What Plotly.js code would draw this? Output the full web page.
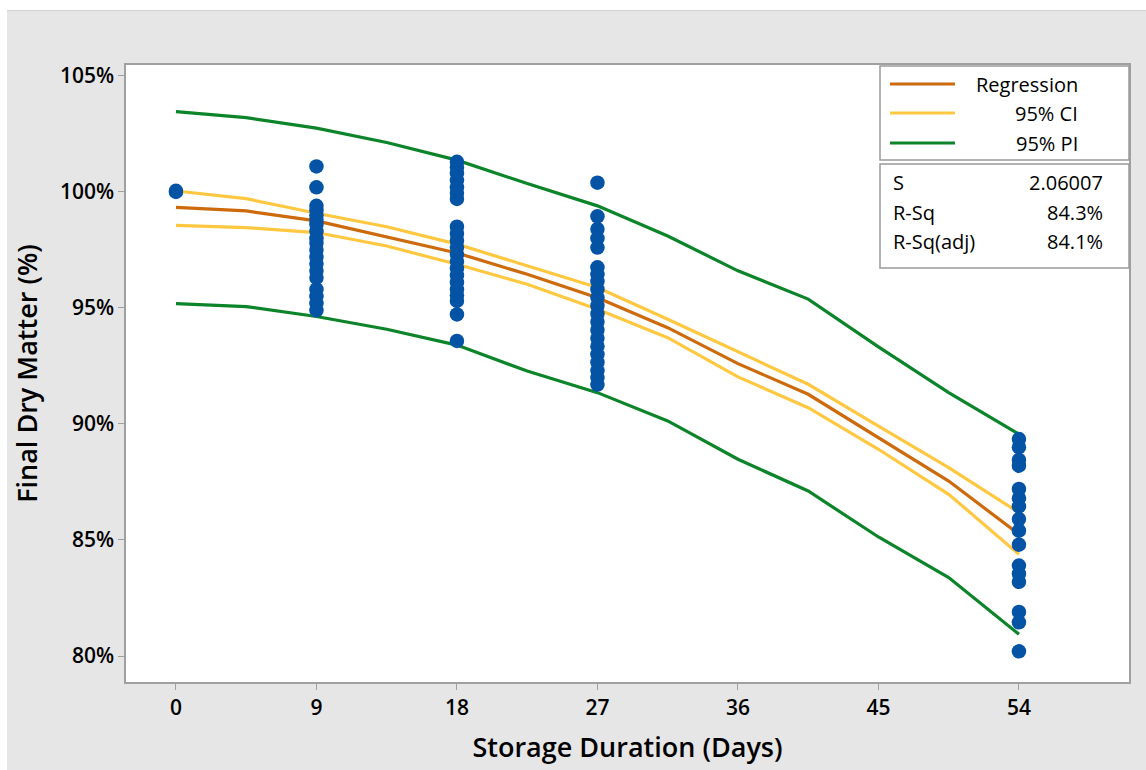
<!DOCTYPE html>
<html>
<head>
<meta charset="utf-8">
<script src="https://cdn.plot.ly/plotly-3.0.1.min.js"></script>
<style>
html,body{margin:0;padding:0;background:#ffffff;overflow:hidden;}
#chart{position:absolute;left:7px;top:10px;width:1139px;height:760px;border-top:1px solid #cfcfcf;}
</style>
</head>
<body>
<div id="chart"></div>
<script>
// ---- data ----
const fitDays = [0, 4.5, 9, 13.5, 18, 22.5, 27, 31.5, 36, 40.5, 45, 49.5, 54];
const regression = [99.33, 99.18, 98.75, 98.07, 97.37, 96.45, 95.44, 94.15, 92.6, 91.28, 89.41, 87.54, 85.25];
const ciUpper    = [100.04, 99.71, 99.08, 98.5, 97.75, 96.81, 95.88, 94.51, 93.1, 91.71, 89.91, 88.12, 86.18];
const ciLower    = [98.56, 98.46, 98.25, 97.67, 96.88, 96.02, 94.94, 93.72, 92.03, 90.7, 88.91, 86.97, 84.38];
const piUpper    = [103.46, 103.2, 102.75, 102.13, 101.37, 100.36, 99.4, 98.1, 96.6, 95.38, 93.32, 91.35, 89.56];
const piLower    = [95.19, 95.06, 94.63, 94.08, 93.4, 92.28, 91.35, 90.13, 88.48, 87.11, 85.13, 83.38, 80.94];

// observed final dry matter (%) per storage duration (days)
const obsGroupDays = [0, 9, 18, 27, 54];
const day0  = [100.05, 100.0];
const day9  = [101.1, 100.2, 99.4, 99.2, 99.0, 98.8, 98.6, 98.3, 98.0, 97.8, 97.5, 97.2, 96.9, 96.6, 96.3, 95.8, 95.5, 95.2, 94.9];
const day18 = [101.3, 101.05, 100.8, 100.5, 100.2, 99.95, 99.7, 98.5, 98.2, 97.9, 97.6, 97.3, 97.0, 96.7, 96.4, 96.1, 95.8, 95.55, 95.3, 94.72, 93.58];
const day27 = [100.4, 98.95, 98.4, 98.0, 97.6, 96.75, 96.45, 96.15, 95.8, 95.45, 95.1, 94.75, 94.4, 94.05, 93.7, 93.35, 93.0, 92.65, 92.3, 92.0, 91.7];
const day54 = [89.35, 89.0, 88.45, 88.2, 87.2, 86.8, 86.45, 85.9, 85.4, 84.8, 83.9, 83.55, 83.2, 81.9, 81.45, 80.2];
const obsGroups = [day0, day9, day18, day27, day54];

const xTicks = [0, 9, 18, 27, 36, 45, 54];
const yTicks = [80, 85, 90, 95, 100, 105];
const legendNames = ["Regression", "95% CI", "95% PI"];
const statNames = ["S", "R-Sq", "R-Sq(adj)"];
const statValues = ["2.06007", "84.3%", "84.1%"];

// ---- styling ----
const C_REG = "#cc6a0c", C_CI = "#ffc840", C_PI = "#0c842a", C_PT = "#0453a5";
const FONT = "'Open Sans', 'Noto Sans', sans-serif";

// page-pixel -> paper helpers (layout only)
const L = 126, R = 1129, T = 64, B = 681;
const px = v => (v - L) / (R - L);
const py = v => 1 - (v - T) / (B - T);

const lineTrace = (y, color, name) => ({
  x: fitDays, y: y, type: "scatter", mode: "lines", name: name,
  line: {color: color, width: 3.2}, hoverinfo: "x+y", showlegend: false
});

const obsX = [], obsY = [];
obsGroups.forEach((g, i) => g.forEach(v => { obsX.push(obsGroupDays[i]); obsY.push(v); }));

const traces = [
  lineTrace(piUpper, C_PI, legendNames[2]),
  lineTrace(piLower, C_PI, legendNames[2]),
  lineTrace(ciUpper, C_CI, legendNames[1]),
  lineTrace(ciLower, C_CI, legendNames[1]),
  lineTrace(regression, C_REG, legendNames[0]),
  {x: obsX, y: obsY, type: "scatter", mode: "markers", name: "Observed",
   marker: {color: C_PT, size: 14.5, line: {width: 0}}, showlegend: false}
];

const legendColors = [C_REG, C_CI, C_PI];
const legendRowsY = [83, 112, 142];
const statRowsY = [181, 211, 240];

const shapes = [
  {type: "rect", xref: "paper", yref: "paper", x0: px(880), x1: px(1129), y0: py(65), y1: py(159),
   fillcolor: "#ffffff", line: {color: "#9a9a9a", width: 1.5}},
  {type: "rect", xref: "paper", yref: "paper", x0: px(880), x1: px(1129), y0: py(163), y1: py(267),
   fillcolor: "#ffffff", line: {color: "#9a9a9a", width: 1.5}}
];
legendRowsY.forEach((yy, i) => shapes.push({
  type: "line", xref: "paper", yref: "paper", x0: px(890), x1: px(955), y0: py(yy), y1: py(yy),
  line: {color: legendColors[i], width: 3.2}
}));

const annotations = [];
legendNames.forEach((t, i) => annotations.push({
  xref: "paper", yref: "paper", x: px(1080), y: py(legendRowsY[i]), xanchor: "right", yanchor: "middle",
  text: t, showarrow: false, font: {family: FONT, size: 20, color: "#000"}
}));
statNames.forEach((t, i) => {
  annotations.push({
    xref: "paper", yref: "paper", x: px(891), y: py(statRowsY[i]), xanchor: "left", yanchor: "middle",
    text: t, showarrow: false, font: {family: FONT, size: 20, color: "#000"}
  });
  annotations.push({
    xref: "paper", yref: "paper", x: px(1105), y: py(statRowsY[i]), xanchor: "right", yanchor: "middle",
    text: statValues[i], showarrow: false, font: {family: FONT, size: 20, color: "#000"}
  });
});

const axisCommon = {
  showgrid: false, zeroline: false, showline: true, linecolor: "#a0a0a0", linewidth: 1.5,
  mirror: true, ticks: "outside", ticklen: 6, tickwidth: 1, tickcolor: "#a0a0a0",
  tickfont: {family: FONT, size: 21, color: "#000", weight: 600}
};

const layout = {
  width: 1139, height: 760,
  margin: {l: 119, r: 17, t: 54, b: 89, pad: 0},
  paper_bgcolor: "#e6e6e6", plot_bgcolor: "#ffffff",
  showlegend: false,
  xaxis: Object.assign({}, axisCommon, {
    range: [-3.2, 61.05], tickmode: "array", tickvals: xTicks, ticktext: xTicks.map(String),
    title: {text: "Storage Duration (Days)", font: {family: FONT, size: 27, color: "#000", weight: 600}, standoff: 18}
  }),
  yaxis: Object.assign({}, axisCommon, {
    range: [78.88, 105.47], tickmode: "array", tickvals: yTicks, ticktext: yTicks.map(v => v + "%"),
    title: {text: "Final Dry Matter (%)", font: {family: FONT, size: 27, color: "#000", weight: 600}, standoff: 14}
  }),
  shapes: shapes,
  annotations: annotations
};

Plotly.newPlot("chart", traces, layout, {displayModeBar: false, responsive: false});
</script>
</body>
</html>
